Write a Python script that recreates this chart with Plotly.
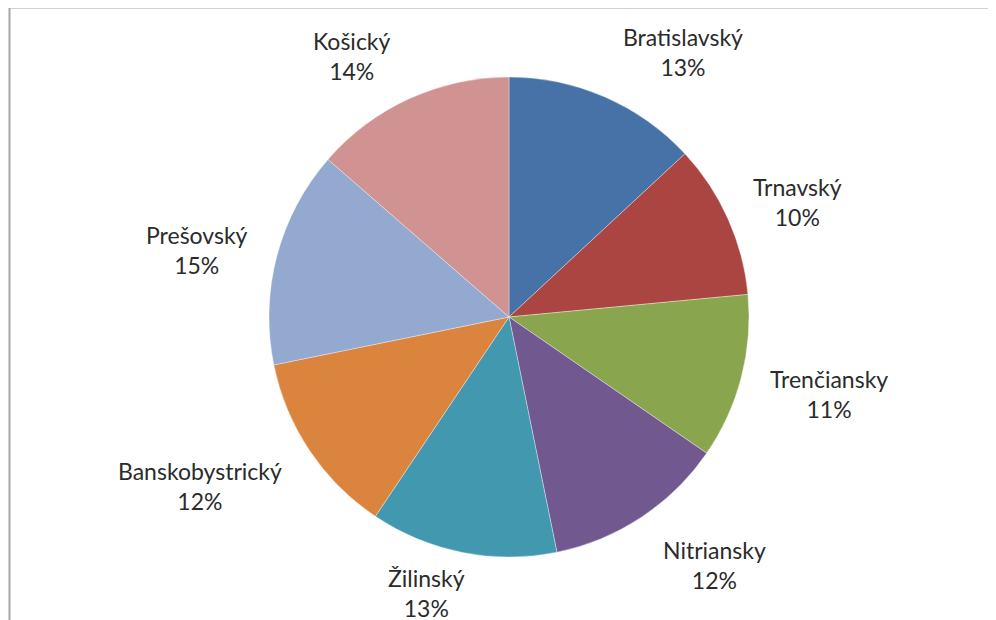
import plotly.graph_objects as go

# ---- data ----
regions = ["Bratislavský", "Trnavský", "Trenčiansky", "Nitriansky",
           "Žilinský", "Banskobystrický", "Prešovský", "Košický"]
shares = [13.1, 10.4, 11.1, 12.2, 12.6, 12.4, 14.6, 13.6]
colors = ["#4672A8", "#AA4542", "#89A54E", "#71588F",
          "#4198AF", "#DB843D", "#93A9CF", "#D09392"]

# ---- layout constants (label centres, px in the screenshot) ----
W, H = 996, 620
OFF = 8  # page body margin shifts the figure by 8 px
label_px = [(683, 52), (797, 202), (829, 394), (714, 565),
            (426, 593), (200, 486), (197, 250), (352, 56)]

cx, cy, R = 509 - OFF, 317 - OFF, 240


def px2paper(px, py):
    return (px - OFF) / W, 1 - (py - OFF) / H


total = sum(shares)
fig = go.Figure(go.Pie(
    labels=regions, values=shares, sort=False, direction="clockwise",
    rotation=0, textinfo="none", hoverinfo="label+percent",
    marker=dict(colors=colors, line=dict(width=0.6, color="rgba(255,255,255,0.6)")),
    domain=dict(x=[(cx - R) / W, (cx + R) / W],
                y=[(H - cy - R) / H, (H - cy + R) / H]),
    showlegend=False,
))

for name, v, (px, py) in zip(regions, shares, label_px):
    ax, ay = px2paper(px, py)
    fig.add_annotation(
        x=ax, y=ay, xref="paper", yref="paper",
        text=f"{name}<br>{round(v / total * 100)}%",
        showarrow=False, xanchor="center", yanchor="middle",
        font=dict(family="Lato, Open Sans, sans-serif", size=23, color="#2b2b2b"),
    )

bx0, by1 = px2paper(9.5, 7.5)
fig.add_shape(type="rect", xref="paper", yref="paper",
              x0=bx0, x1=1.05, y0=-0.05, y1=by1,
              line=dict(color="#A6A6A6", width=2), fillcolor="rgba(0,0,0,0)")

fig.update_layout(width=W, height=H, margin=dict(l=0, r=0, t=0, b=0),
                  paper_bgcolor="white", plot_bgcolor="white")
fig.write_html("out.html")
